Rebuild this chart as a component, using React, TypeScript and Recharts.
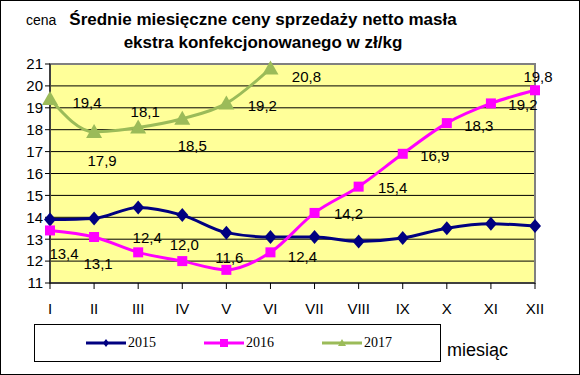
import { CartesianGrid, LabelList, Line, LineChart, ReferenceArea, XAxis, YAxis } from 'recharts';

const months = ['I', 'II', 'III', 'IV', 'V', 'VI', 'VII', 'VIII', 'IX', 'X', 'XI', 'XII'];
const prices2015 = [13.9, 13.95, 14.45, 14.1, 13.3, 13.1, 13.1, 12.9, 13.05, 13.5, 13.7, 13.6];
const prices2016 = [13.4, 13.1, 12.4, 12.0, 11.6, 12.4, 14.2, 15.4, 16.9, 18.3, 19.2, 19.8];
const prices2017 = [19.4, 17.9, 18.1, 18.5, 19.2, 20.8];
const yTicks = [11, 12, 13, 14, 15, 16, 17, 18, 19, 20, 21];

// where each data label sits relative to its point (dx, dy)
const labelOffsets2016 = [
 [14, 23], [4, 26], [9, -15], [2, -17], [3, -12], [32, 4],
 [34, 1], [34, 1], [32, 2], [32, 2], [32, 1], [3, -14],
];
const labelOffsets2017 = [[37, 3], [8, 29], [7, -16], [10, 27], [36, 2], [36, 8]];

const C2015 = '#000080';
const C2016 = '#FF00FF';
const C2017 = '#9BBB59';
const FONT = '"Liberation Sans", Arial, sans-serif';

const data = months.map((m, i) => ({
 month: m,
 y2015: prices2015[i],
 y2016: prices2016[i],
 y2017: i < prices2017.length ? prices2017[i] : null,
}));

const fmt = (v: number) => v.toFixed(1).replace('.', ',');

function Diamond({ cx, cy, w = 6, h = 7 }: any) {
 if (cx == null || cy == null) return null;
 return <polygon points={`${cx},${cy - h} ${cx + w},${cy} ${cx},${cy + h} ${cx - w},${cy}`} fill={C2015} />;
}

function Square({ cx, cy, s = 5 }: any) {
 if (cx == null || cy == null) return null;
 return <rect x={cx - s} y={cy - s} width={s * 2} height={s * 2} fill={C2016} />;
}

function Triangle({ cx, cy, w = 8, h = 8 }: any) {
 if (cx == null || cy == null) return null;
 return <polygon points={`${cx},${cy - h} ${cx + w},${cy + h * 0.75} ${cx - w},${cy + h * 0.75}`} fill={C2017} />;
}

function makeLabel(offsets: number[][]) {
 return (props: any) => {
 const { x, y, value, index } = props;
 if (value == null) return null;
 const [dx, dy] = offsets[index] || [0, -12];
 return (
 <text x={x + dx} y={y + dy} textAnchor="middle" dominantBaseline="central" fontFamily={FONT} fontSize={15} fill="#000">
 {fmt(value)}
 </text>
 );
 };
}

function LegendItem({ color, label, marker }: any) {
 return (
 <div style={{ display: 'flex', alignItems: 'center', width: 120 }}>
 <svg width={40} height={12}>
 <line x1={0} y1={6} x2={40} y2={6} stroke={color} strokeWidth={3} />
 {marker}
 </svg>
 <span style={{ fontFamily: '"Liberation Serif", "Times New Roman", serif', fontSize: 14, marginLeft: 2 }}>{label}</span>
 </div>
 );
}

export default function App() {
 return (
 <div style={{ position: 'absolute', left: 0, top: 0, width: 580, height: 375, background: '#fff' }}>
 <LineChart width={580} height={375} data={data} margin={{ top: 64, right: 45, bottom: 62, left: 0 }}>
 <CartesianGrid vertical={false} stroke="#000" fill="#FFFF99" fillOpacity={1} horizontalValues={yTicks} />
 <ReferenceArea x1="I" x2="XII" y1={11} y2={21} fill="none" stroke="#808080" strokeWidth={2} ifOverflow="visible" />
 <XAxis
 dataKey="month"
 height={30}
 tickSize={6}
 tickMargin={14}
 stroke="#000"
 tick={{ fill: '#000', fontSize: 15, fontFamily: FONT }}
 interval={0}
 />
 <YAxis
 width={50}
 domain={[11, 21]}
 ticks={yTicks}
 tickSize={5}
 tickMargin={2}
 stroke="#000"
 tick={{ fill: '#000', fontSize: 15, fontFamily: FONT }}
 interval={0}
 />
 <Line type="monotone" dataKey="y2015" stroke={C2015} strokeWidth={3} dot={<Diamond />} isAnimationActive={false} />
 <Line type="monotone" dataKey="y2016" stroke={C2016} strokeWidth={3} dot={<Square />} isAnimationActive={false}>
 <LabelList dataKey="y2016" content={makeLabel(labelOffsets2016)} />
 </Line>
 <Line type="monotone" dataKey="y2017" stroke={C2017} strokeWidth={3} dot={<Triangle />} isAnimationActive={false}>
 <LabelList dataKey="y2017" content={makeLabel(labelOffsets2017)} />
 </Line>
 </LineChart>

 <div style={{ position: 'absolute', left: 26, top: 12, fontFamily: FONT, fontSize: 14 }}>cena</div>
 <div
 style={{
 position: 'absolute', left: 60, width: 406, top: 8, textAlign: 'center',
 fontFamily: FONT, fontSize: 17, fontWeight: 'bold', lineHeight: '23px',
 }}
 >
 Średnie miesięczne ceny sprzedaży netto masła
 <br />
 ekstra konfekcjonowanego w zł/kg
 </div>

 <div
 style={{
 position: 'absolute', left: 34, top: 324, width: 407, height: 38, boxSizing: 'border-box',
 border: '1px solid #000', display: 'flex', alignItems: 'center', paddingLeft: 51,
 }}
 >
 <LegendItem color={C2015} label="2015" marker={<Diamond cx={20} cy={6} w={3} h={4} />} />
 <LegendItem color={C2016} label="2016" marker={<Square cx={20} cy={6} s={4} />} />
 <LegendItem color={C2017} label="2017" marker={<Triangle cx={20} cy={6} w={4} h={4} />} />
 </div>
 <div style={{ position: 'absolute', left: 447, top: 340, fontFamily: FONT, fontSize: 18 }}>miesiąc</div>

 <div style={{ position: 'absolute', left: 0, top: 0, width: 580, height: 375, boxSizing: 'border-box', border: '1px solid #000', pointerEvents: 'none' }} />
 </div>
 );
}
